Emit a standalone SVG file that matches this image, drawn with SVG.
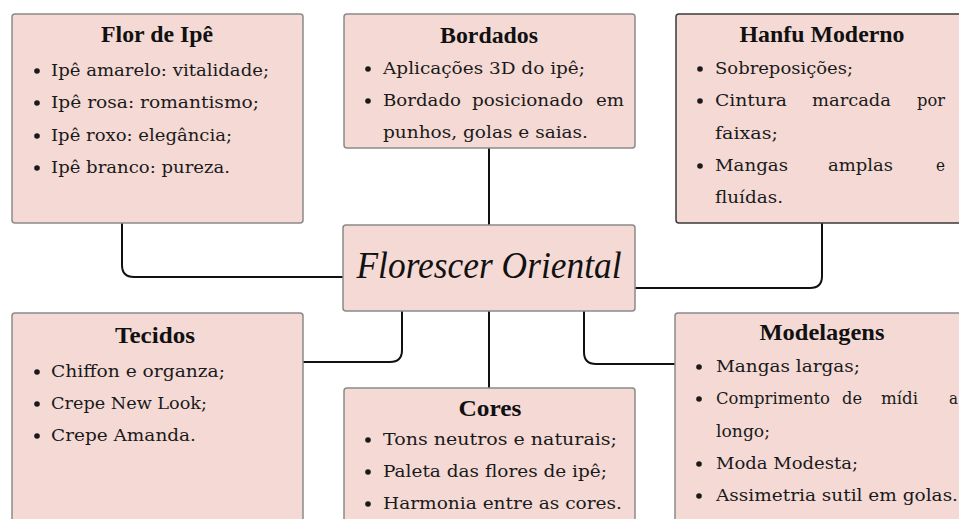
<svg xmlns="http://www.w3.org/2000/svg" width="959" height="519" viewBox="0 0 959 519">
<style>
.box{fill:#f4d9d5;stroke:#8a8a8a;stroke-width:1.5}
.dark{stroke:#3a3a3a}
.title{font-family:"Liberation Serif","DejaVu Serif",serif;font-weight:bold;font-size:23px;fill:#111;text-anchor:middle}
.t{font-family:"DejaVu Serif","Liberation Serif",serif;font-size:16.5px;fill:#1a1a1a}
.b{fill:#1a1a1a}
.center{font-family:"Liberation Serif","DejaVu Serif",serif;font-style:italic;font-size:38px;fill:#111;text-anchor:middle}
.conn{fill:none;stroke:#111;stroke-width:2}
</style>
<rect width="959" height="519" fill="#ffffff"/>
<g id="connectors">
<path class="conn" d="M122 223 V265 Q122 277 134 277 H343"/>
<path class="conn" d="M489 148 V225"/>
<path class="conn" d="M822 223 V276 Q822 288 810 288 H635"/>
<path class="conn" d="M402 311 V350 Q402 362 390 362 H303"/>
<path class="conn" d="M489 311 V388"/>
<path class="conn" d="M584 311 V352 Q584 364 596 364 H675"/>
</g>
<g id="flor">
<rect class="box" x="12" y="14" width="291" height="209" rx="3"/>
<text class="title" x="157" y="42" textLength="112" lengthAdjust="spacingAndGlyphs">Flor de Ipê</text>
<circle class="b" cx="37" cy="71" r="2.8"/><text class="t" x="51" y="76" textLength="218" lengthAdjust="spacingAndGlyphs">Ipê amarelo: vitalidade;</text>
<circle class="b" cx="37" cy="103" r="2.8"/><text class="t" x="51" y="108" textLength="208" lengthAdjust="spacingAndGlyphs">Ipê rosa: romantismo;</text>
<circle class="b" cx="37" cy="136" r="2.8"/><text class="t" x="51" y="141" textLength="181" lengthAdjust="spacingAndGlyphs">Ipê roxo: elegância;</text>
<circle class="b" cx="37" cy="168" r="2.8"/><text class="t" x="51" y="173" textLength="179" lengthAdjust="spacingAndGlyphs">Ipê branco: pureza.</text>
</g>
<g id="bordados">
<rect class="box" x="344" y="14" width="291" height="134" rx="3"/>
<text class="title" x="489" y="43" textLength="98" lengthAdjust="spacingAndGlyphs">Bordados</text>
<circle class="b" cx="368" cy="69" r="2.8"/><text class="t" x="383" y="74" textLength="202" lengthAdjust="spacingAndGlyphs">Aplicações 3D do ipê;</text>
<circle class="b" cx="368" cy="101" r="2.8"/>
<text class="t" y="106"><tspan x="383" textLength="78" lengthAdjust="spacingAndGlyphs">Bordado</tspan></text>
<text class="t" y="106"><tspan x="472" textLength="111" lengthAdjust="spacingAndGlyphs">posicionado</tspan></text>
<text class="t" y="106"><tspan x="596" textLength="28" lengthAdjust="spacingAndGlyphs">em</tspan></text>
<text class="t" x="383" y="138" textLength="205" lengthAdjust="spacingAndGlyphs">punhos, golas e saias.</text>
</g>
<g id="hanfu">
<rect class="box dark" x="676" y="14" width="300" height="209" rx="3"/>
<text class="title" x="822" y="42" textLength="165" lengthAdjust="spacingAndGlyphs">Hanfu Moderno</text>
<circle class="b" cx="700" cy="69" r="2.8"/><text class="t" x="715" y="74" textLength="138" lengthAdjust="spacingAndGlyphs">Sobreposições;</text>
<circle class="b" cx="700" cy="101" r="2.8"/>
<text class="t" y="106"><tspan x="715" textLength="72" lengthAdjust="spacingAndGlyphs">Cintura</tspan></text>
<text class="t" y="106"><tspan x="812" textLength="79" lengthAdjust="spacingAndGlyphs">marcada</tspan></text>
<text class="t" y="106"><tspan x="917" textLength="28" lengthAdjust="spacingAndGlyphs">por</tspan></text>
<text class="t" x="715" y="139" textLength="63" lengthAdjust="spacingAndGlyphs">faixas;</text>
<circle class="b" cx="700" cy="166" r="2.8"/>
<text class="t" y="171"><tspan x="715" textLength="73" lengthAdjust="spacingAndGlyphs">Mangas</tspan></text>
<text class="t" y="171"><tspan x="828" textLength="65" lengthAdjust="spacingAndGlyphs">amplas</tspan></text>
<text class="t" y="171"><tspan x="936" textLength="9" lengthAdjust="spacingAndGlyphs">e</tspan></text>
<text class="t" x="715" y="203" textLength="68" lengthAdjust="spacingAndGlyphs">fluídas.</text>
</g>
<g id="center">
<rect class="box" x="343" y="225" width="292" height="86" rx="3"/>
<text class="center" x="489" y="278" textLength="265" lengthAdjust="spacingAndGlyphs">Florescer Oriental</text>
</g>
<g id="tecidos">
<rect class="box" x="12" y="313" width="291" height="220" rx="3"/>
<text class="title" x="155" y="343" textLength="80" lengthAdjust="spacingAndGlyphs">Tecidos</text>
<circle class="b" cx="37" cy="372" r="2.8"/><text class="t" x="51" y="377" textLength="174" lengthAdjust="spacingAndGlyphs">Chiffon e organza;</text>
<circle class="b" cx="37" cy="404" r="2.8"/><text class="t" x="51" y="409" textLength="156" lengthAdjust="spacingAndGlyphs">Crepe New Look;</text>
<circle class="b" cx="37" cy="436" r="2.8"/><text class="t" x="51" y="441" textLength="145" lengthAdjust="spacingAndGlyphs">Crepe Amanda.</text>
</g>
<g id="cores">
<rect class="box" x="344" y="388" width="291" height="145" rx="3"/>
<text class="title" x="490" y="416" textLength="63" lengthAdjust="spacingAndGlyphs">Cores</text>
<circle class="b" cx="368" cy="440" r="2.8"/><text class="t" x="383" y="445" textLength="234" lengthAdjust="spacingAndGlyphs">Tons neutros e naturais;</text>
<circle class="b" cx="368" cy="472" r="2.8"/><text class="t" x="383" y="477" textLength="224" lengthAdjust="spacingAndGlyphs">Paleta das flores de ipê;</text>
<circle class="b" cx="368" cy="504" r="2.8"/><text class="t" x="383" y="509" textLength="239" lengthAdjust="spacingAndGlyphs">Harmonia entre as cores.</text>
</g>
<g id="modelagens">
<rect class="box" x="675" y="313" width="300" height="220" rx="3"/>
<text class="title" x="822" y="340" textLength="125" lengthAdjust="spacingAndGlyphs">Modelagens</text>
<circle class="b" cx="699" cy="367" r="2.8"/><text class="t" x="716" y="372" textLength="144" lengthAdjust="spacingAndGlyphs">Mangas largas;</text>
<circle class="b" cx="699" cy="399" r="2.8"/>
<text class="t" y="404"><tspan x="716" textLength="114" lengthAdjust="spacingAndGlyphs">Comprimento</tspan></text>
<text class="t" y="404"><tspan x="842" textLength="20" lengthAdjust="spacingAndGlyphs">de</tspan></text>
<text class="t" y="404"><tspan x="881" textLength="37" lengthAdjust="spacingAndGlyphs">mídi</tspan></text>
<text class="t" y="404"><tspan x="949" textLength="9" lengthAdjust="spacingAndGlyphs">a</tspan></text>
<text class="t" x="716" y="437" textLength="54" lengthAdjust="spacingAndGlyphs">longo;</text>
<circle class="b" cx="699" cy="464" r="2.8"/><text class="t" x="716" y="469" textLength="142" lengthAdjust="spacingAndGlyphs">Moda Modesta;</text>
<circle class="b" cx="699" cy="496" r="2.8"/><text class="t" x="716" y="501" textLength="242" lengthAdjust="spacingAndGlyphs">Assimetria sutil em golas.</text>
</g>
</svg>
